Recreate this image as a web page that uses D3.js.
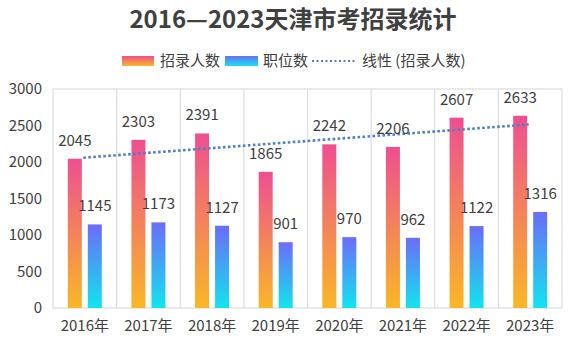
<!DOCTYPE html>
<html><head><meta charset="utf-8">
<script src="https://cdn.jsdelivr.net/npm/d3@7"></script>
<style>
html,body{margin:0;padding:0;background:#fff;}
text{font-family:"Microsoft YaHei","Noto Sans CJK SC","DejaVu Sans",sans-serif;fill:#404040;}
</style></head>
<body>
<svg id="chart" width="574" height="350"></svg>
<script>
const years = ["2016年","2017年","2018年","2019年","2020年","2021年","2022年","2023年"];
const hires = [2045,2303,2391,1865,2242,2206,2607,2633];
const posts = [1145,1173,1127,901,970,962,1122,1316];
const yTicks = [0,500,1000,1500,2000,2500,3000];
const title = "2016—2023天津市考招录统计";
const seriesNames = ["招录人数","职位数","线性 (招录人数)"];

const svg = d3.select("#chart");
const W = 574, H = 350;
const m = {l:53, r:12, t:89, b:42};
const x0 = d3.scaleBand().domain(years).range([m.l, W - m.r]).padding(0);
const y = d3.scaleLinear().domain([0,3000]).range([H - m.b, m.t]);
const bw = 14, gap = 4;

const defs = svg.append("defs");
function grad(id, top, bot){
  const g = defs.append("linearGradient").attr("id", id).attr("x1",0).attr("y1",0).attr("x2",0).attr("y2",1);
  g.append("stop").attr("offset","0%").attr("stop-color", top);
  g.append("stop").attr("offset","100%").attr("stop-color", bot);
}
grad("gPink", "#EE4F91", "#F9B726");
grad("gBlue", "#6C6CF9", "#12E4EE");

// title
svg.append("text").attr("x", 293).attr("y", 28).attr("text-anchor","middle")
  .style("font-size","24px").style("font-weight","bold").text(title);

// plot frame & vertical gridlines
const grid = svg.append("g").attr("stroke","#dcdcdc").attr("stroke-width",1.2).attr("fill","none");
grid.append("rect").attr("x", m.l).attr("y", m.t).attr("width", W - m.r - m.l).attr("height", H - m.b - m.t);
years.forEach((d,i)=>{ if(i>0) grid.append("line").attr("x1", x0(d)).attr("x2", x0(d)).attr("y1", m.t).attr("y2", H-m.b); });

// y axis
const yAxis = svg.append("g").attr("transform", `translate(${m.l},0)`)
  .call(d3.axisLeft(y).tickValues(yTicks).tickSize(0).tickPadding(11).tickFormat(d3.format("d")));
yAxis.select(".domain").remove();
yAxis.selectAll("text").style("font-size","15px").style("fill","#404040");

// x axis
const xAxis = svg.append("g").attr("transform", `translate(0,${H - m.b})`)
  .call(d3.axisBottom(x0).tickSize(0).tickPadding(12));
xAxis.select(".domain").remove();
xAxis.selectAll("text").style("font-size","15px").style("fill","#404040");

// bars
const cx = d => x0(d) + x0.bandwidth()/2;
svg.append("g").selectAll("rect").data(years).join("rect")
  .attr("x", d => cx(d) - gap/2 - bw - 1).attr("width", bw)
  .attr("y", (d,i) => y(hires[i])).attr("height", (d,i) => y(0) - y(hires[i]))
  .attr("fill","url(#gPink)");
svg.append("g").selectAll("rect").data(years).join("rect")
  .attr("x", d => cx(d) + gap/2 + 1).attr("width", bw)
  .attr("y", (d,i) => y(posts[i])).attr("height", (d,i) => y(0) - y(posts[i]))
  .attr("fill","url(#gBlue)");

// trend line (least squares on hires)
const n = hires.length;
const mx = d3.mean(hires, (d,i)=>i), my = d3.mean(hires);
const slope = d3.sum(hires, (d,i)=>(i-mx)*(d-my)) / d3.sum(hires, (d,i)=>(i-mx)*(i-mx));
const icpt = my - slope*mx;
const trend = years.map((d,i)=>[cx(d) - 1.5, y(icpt + slope*i)]);
svg.append("path").attr("d", d3.line()([trend[0], trend[n-1]]))
  .attr("stroke","#4F7FC4").attr("stroke-width",2.6).attr("stroke-dasharray","2.6 2.4").attr("fill","none");

// labels
svg.append("g").selectAll("text").data(years).join("text")
  .attr("x", d => cx(d) - gap/2 - bw/2 - 1).attr("y", (d,i) => y(hires[i]) - 13)
  .attr("text-anchor","middle").style("font-size","15px").text((d,i)=>hires[i]);
svg.append("g").selectAll("text").data(years).join("text")
  .attr("x", d => cx(d) + gap/2 + bw/2 + 1).attr("y", (d,i) => y(posts[i]) - 13)
  .attr("text-anchor","middle").style("font-size","15px").text((d,i)=>posts[i]);

// legend
const lg = svg.append("g");
lg.append("rect").attr("x",122).attr("y",56).attr("width",32).attr("height",10).attr("fill","url(#gPink)");
lg.append("text").attr("x",160).attr("y",66).style("font-size","15px").text(seriesNames[0]);
lg.append("rect").attr("x",225).attr("y",56).attr("width",33).attr("height",10).attr("fill","url(#gBlue)");
lg.append("text").attr("x",263).attr("y",66).style("font-size","15px").text(seriesNames[1]);
lg.append("line").attr("x1",312).attr("x2",355).attr("y1",61).attr("y2",61)
  .attr("stroke","#4F7FC4").attr("stroke-width",2.2).attr("stroke-dasharray","2 2.5");
lg.append("text").attr("x",362).attr("y",66).style("font-size","15px").text(seriesNames[2]);
</script>
</body></html>
